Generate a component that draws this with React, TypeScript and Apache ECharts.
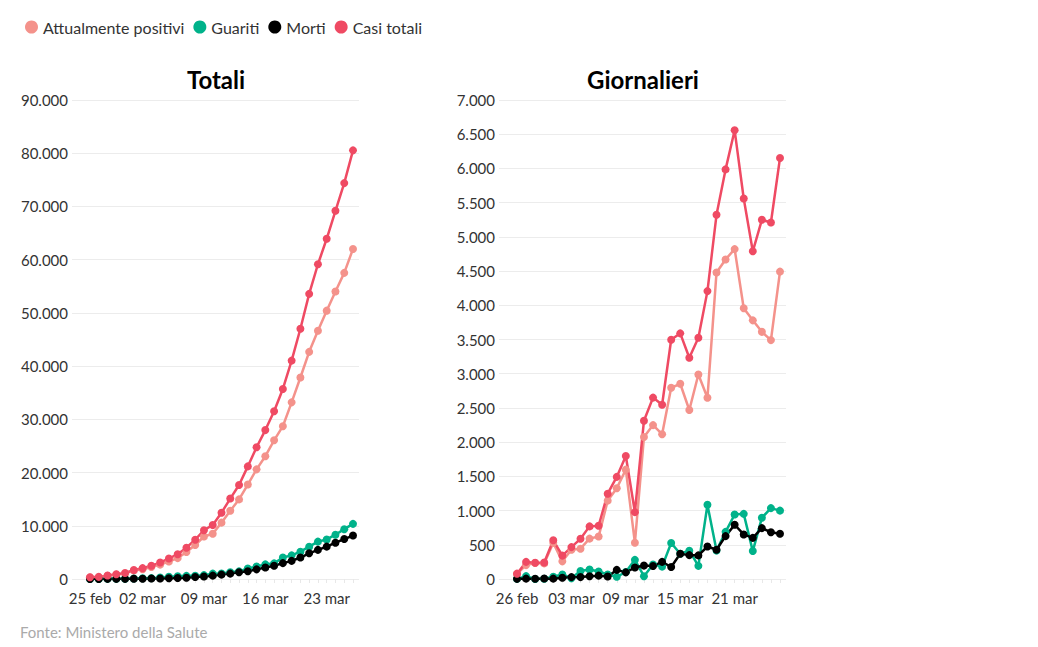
import React, { useEffect, useRef } from "react";
import * as echarts from "echarts";

const SERIES_NAMES = ["Attualmente positivi", "Guariti", "Morti", "Casi totali"];
const COLORS = ["#f4928b", "#00b28a", "#000000", "#ef4a63"];

const datesTot = [
  "25 feb", "26 feb", "27 feb", "28 feb", "29 feb", "01 mar", "02 mar", "03 mar", "04 mar", "05 mar",
  "06 mar", "07 mar", "08 mar", "09 mar", "10 mar", "11 mar", "12 mar", "13 mar", "14 mar", "15 mar",
  "16 mar", "17 mar", "18 mar", "19 mar", "20 mar", "21 mar", "22 mar", "23 mar", "24 mar", "25 mar", "26 mar",
];
const totPositivi = [311, 385, 588, 821, 1049, 1577, 1835, 2263, 2706, 3296, 3916, 5061, 6387, 7985, 8514, 10590, 12839, 14955, 17750, 20603, 23073, 26062, 28710, 33190, 37860, 42681, 46638, 50418, 54030, 57521, 62013];
const totGuariti = [1, 3, 45, 46, 50, 83, 149, 160, 276, 414, 523, 589, 622, 724, 1004, 1045, 1258, 1439, 1966, 2335, 2749, 2941, 4025, 4440, 5129, 6072, 7024, 7432, 8326, 9362, 10361];
const totMorti = [10, 12, 17, 21, 29, 34, 52, 79, 107, 148, 197, 233, 366, 463, 631, 827, 1016, 1266, 1441, 1809, 2158, 2503, 2978, 3405, 4032, 4825, 5476, 6077, 6820, 7503, 8165];
const totCasi = [322, 400, 650, 888, 1128, 1694, 2036, 2502, 3089, 3858, 4636, 5883, 7375, 9172, 10149, 12462, 15113, 17660, 21157, 24747, 27980, 31506, 35713, 41035, 47021, 53578, 59138, 63927, 69176, 74386, 80539];
const totLabelIdx = [0, 6, 13, 20, 27];

const datesDay = datesTot.slice(1);
const dayPositivi = [74, 203, 233, 228, 528, 258, 428, 443, 590, 620, 1145, 1326, 1598, 529, 2076, 2249, 2116, 2795, 2853, 2470, 2989, 2648, 4480, 4670, 4821, 3957, 3780, 3612, 3491, 4492];
const dayGuariti = [2, 42, 1, 4, 33, 66, 11, 116, 138, 109, 66, 33, 102, 280, 41, 213, 181, 527, 369, 414, 192, 1084, 415, 689, 943, 952, 408, 894, 1036, 999];
const dayMorti = [2, 5, 4, 8, 5, 18, 27, 28, 41, 49, 36, 133, 97, 168, 196, 189, 250, 175, 368, 349, 345, 475, 427, 627, 793, 651, 601, 743, 683, 662];
const dayCasi = [78, 250, 238, 240, 566, 342, 466, 587, 769, 778, 1247, 1492, 1797, 977, 2313, 2651, 2547, 3497, 3590, 3233, 3526, 4207, 5322, 5986, 6557, 5560, 4789, 5249, 5210, 6153];
const dayLabelIdx = [0, 6, 12, 18, 24];

const FONT = "'Source Sans Pro', Lato, 'Noto Sans', sans-serif";

const fmt = (v: number) => String(Math.round(v)).replace(/\B(?=(\d{3})+(?!\d))/g, ".");

export default function App() {
  const ref = useRef<HTMLDivElement>(null);
  useEffect(() => {
    if (!ref.current) return;
    const chart = echarts.init(ref.current, undefined, { renderer: "svg" });
    const top = 100;
    const bottom = 68;
    const grids = [
      { left: 72, right: 1038 - 359, top, bottom },
      { left: 90, right: 1038 - 353, top, bottom },
      { left: 499, right: 1038 - 786, top, bottom },
      { left: 517, right: 1038 - 780, top, bottom },
    ];
    const labelAxis = (gridIndex: number, max: number, interval: number) => ({
      type: "value",
      gridIndex,
      min: 0,
      max,
      interval,
      axisLine: { show: false },
      axisTick: { show: false },
      splitLine: { show: true, lineStyle: { color: "#ececec", width: 1 } },
      axisLabel: { color: "#333", fontSize: 15, fontFamily: FONT, margin: 4, formatter: fmt },
    });
    const hiddenY = (gridIndex: number, max: number) => ({
      type: "value",
      gridIndex,
      min: 0,
      max,
      show: false,
      splitLine: { show: false },
    });
    const dataX = (gridIndex: number, dates: string[], idx: number[]) => ({
      type: "category",
      gridIndex,
      data: dates,
      boundaryGap: false,
      axisLine: { show: false },
      axisTick: { show: true, interval: 0, length: 4, lineStyle: { color: "#e8e8e8" } },
      axisLabel: {
        color: "#333",
        fontSize: 15,
        fontFamily: FONT,
        margin: 11,
        interval: (i: number) => idx.indexOf(i) >= 0,
        showMinLabel: true,
      },
      splitLine: { show: false },
    });
    const mk = (name: string, color: string, data: number[], gi: number) => ({
      type: "line",
      name,
      xAxisIndex: gi,
      yAxisIndex: gi,
      data,
      symbol: "circle",
      symbolSize: 8,
      showSymbol: true,
      showAllSymbol: true,
      lineStyle: { color, width: 2.5 },
      itemStyle: { color },
      emphasis: { disabled: true },
    });
    const totData = [totPositivi, totGuariti, totMorti, totCasi];
    const dayData = [dayPositivi, dayGuariti, dayMorti, dayCasi];
    const series: any[] = [];
    SERIES_NAMES.forEach((n, k) => series.push(mk(n, COLORS[k], totData[k], 1)));
    SERIES_NAMES.forEach((n, k) => series.push(mk(n, COLORS[k], dayData[k], 3)));

    chart.setOption({
      animation: false,
      color: COLORS,
      textStyle: { fontFamily: FONT },
      legend: {
        data: SERIES_NAMES,
        left: 20,
        top: 14,
        icon: "circle",
        itemWidth: 13,
        itemHeight: 13,
        itemGap: 9,
        textStyle: { color: "#333", fontSize: 16, fontFamily: FONT },
        selectedMode: false,
      },
      grid: grids,
      xAxis: [
        { type: "value", gridIndex: 0, show: false, min: 0, max: 1 },
        dataX(1, datesTot, totLabelIdx),
        { type: "value", gridIndex: 2, show: false, min: 0, max: 1 },
        dataX(3, datesDay, dayLabelIdx),
      ],
      yAxis: [
        labelAxis(0, 90000, 10000),
        hiddenY(1, 90000),
        labelAxis(2, 7000, 500),
        hiddenY(3, 7000),
      ],
      graphic: [
        {
          type: "text",
          x: 216,
          y: 79,
          style: { text: "Totali", textAlign: "center", textVerticalAlign: "middle", fill: "#000", font: `bold 24px ${FONT}` },
        },
        {
          type: "text",
          x: 643,
          y: 79,
          style: { text: "Giornalieri", textAlign: "center", textVerticalAlign: "middle", fill: "#000", font: `bold 24px ${FONT}` },
        },
        {
          type: "text",
          x: 20,
          y: 632,
          style: { text: "Fonte: Ministero della Salute", textVerticalAlign: "middle", fill: "#aaaaaa", font: `15px ${FONT}` },
        },
      ],
      series,
    });
    return () => chart.dispose();
  }, []);
  return (
    <div
      ref={ref}
      style={{ position: "fixed", left: 0, top: 0, width: 1038, height: 647, background: "#fff" }}
    />
  );
}
